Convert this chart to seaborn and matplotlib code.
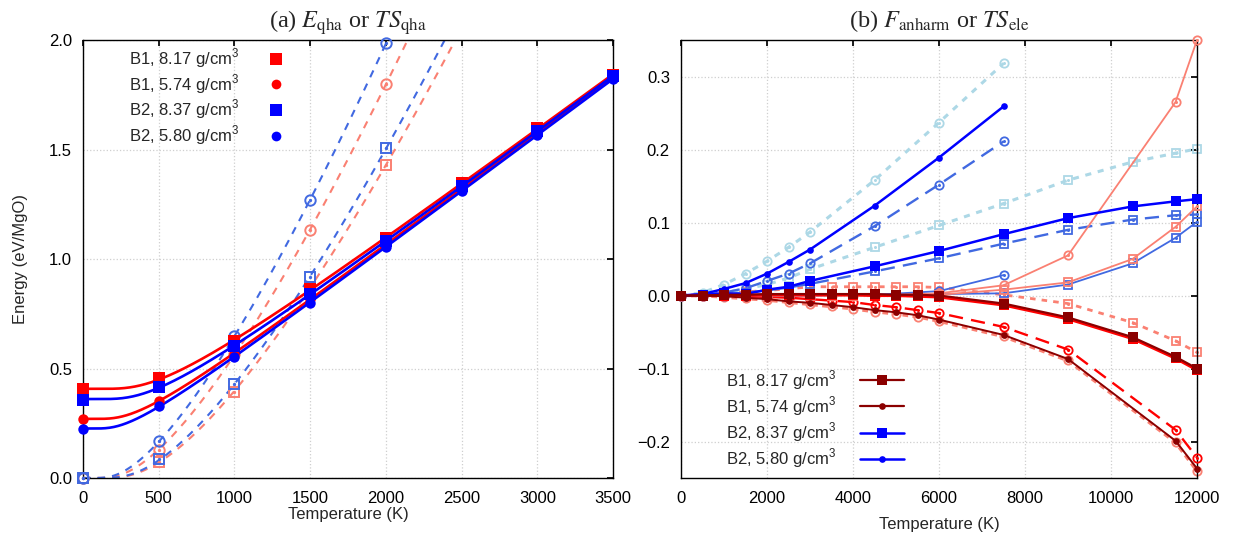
import numpy as np
import matplotlib
matplotlib.use("Agg")
import matplotlib.pyplot as plt
from matplotlib.lines import Line2D
from matplotlib.ticker import FuncFormatter, MultipleLocator
import seaborn as sns

# ---------------- panel (a): E_qha (solid) and TS_qha (dashed) ----------------
T_qha = [0, 500, 1000, 1500, 2000, 2500, 3000, 3500]
E_b1_817 = [0.405, 0.455, 0.625, 0.862, 1.097, 1.345, 1.596, 1.842]
E_b1_574 = [0.270, 0.353, 0.565, 0.818, 1.070, 1.320, 1.575, 1.830]
E_b2_837 = [0.358, 0.417, 0.603, 0.838, 1.083, 1.333, 1.584, 1.836]
E_b2_580 = [0.225, 0.329, 0.553, 0.800, 1.056, 1.312, 1.566, 1.822]

T_ts = [0, 500, 1000, 1500, 2000]
TS_b1_817 = [0.0, 0.075, 0.395, 0.870, 1.429]
TS_b1_574 = [0.0, 0.128, 0.565, 1.133, 1.798]
TS_b2_837 = [0.0, 0.087, 0.428, 0.919, 1.505]
TS_b2_580 = [0.0, 0.168, 0.648, 1.269, 1.985]

# ---------------- panel (b): F_anharm and TS_ele ----------------
T_b2_580 = [0, 500, 1000, 1500, 2000, 2500, 3000, 4500, 6000, 7500]
T_b2_837 = [0, 500, 1000, 1500, 2000, 2500, 3000, 4500, 6000, 7500, 9000, 10500, 11500, 12000]
T_b1_574 = [0, 500, 1000, 1500, 2000, 2500, 3000, 3500, 4000, 4500, 5000, 5500, 6000,
            7500, 9000, 11500, 12000]
T_b1_817 = [0, 500, 1000, 1500, 2000, 2500, 3000, 3500, 4000, 4500, 5000, 5500, 6000,
            7500, 9000, 10500, 11500, 12000]

# B2, 5.80 g/cm3
b2_580_solid = [0, 0.002, 0.009, 0.017, 0.030, 0.046, 0.063, 0.123, 0.189, 0.259]
b2_580_dot = [0, 0.004, 0.015, 0.030, 0.047, 0.066, 0.087, 0.158, 0.237, 0.318]
b2_580_dash = [0, 0.001, 0.004, 0.010, 0.020, 0.030, 0.044, 0.095, 0.152, 0.211]
b2_580_thin = [0, 0, 0, 0, 0, 0, 0, 0.001, 0.006, 0.028]

# B2, 8.37 g/cm3
b2_837_solid = [0, 0.001, 0.003, 0.002, 0.008, 0.012, 0.020, 0.040, 0.061, 0.084,
                0.106, 0.122, 0.129, 0.132]
b2_837_dot = [0, 0.001, 0.004, 0.009, 0.015, 0.024, 0.036, 0.066, 0.096, 0.126,
              0.158, 0.183, 0.195, 0.201]
b2_837_dash = [0, 0, 0.002, 0.004, 0.007, 0.011, 0.016, 0.033, 0.051, 0.071,
               0.090, 0.104, 0.110, 0.111]
b2_837_thin = [0, 0, 0, 0, 0, 0, 0, 0.001, 0.002, 0.003, 0.015, 0.044, 0.079, 0.101]

# B1, 5.74 g/cm3
b1_574_solid = [0, 0, -0.001, -0.003, -0.005, -0.008, -0.010, -0.013, -0.016, -0.020,
                -0.023, -0.027, -0.033, -0.054, -0.087, -0.199, -0.237]
b1_574_dot = [0, 0, -0.002, -0.004, -0.006, -0.009, -0.012, -0.015, -0.018, -0.022,
              -0.025, -0.029, -0.035, -0.056, -0.089, -0.201, -0.240]
b1_574_dash = [0, 0, 0, -0.001, -0.002, -0.003, -0.005, -0.007, -0.009, -0.013,
               -0.016, -0.020, -0.024, -0.043, -0.074, -0.184, -0.222]
b1_574_thin = [0, 0, 0, 0, 0, 0, 0, 0, 0, 0, 0.001, 0.002, 0.003, 0.014, 0.055, 0.265, 0.350]

# B1, 8.17 g/cm3
b1_817_solid = [0, 0, 0.001, 0.001, 0.002, 0.002, 0.002, 0.002, 0.002, 0.002, 0.001,
                0.001, 0.0, -0.011, -0.030, -0.057, -0.084, -0.100]
b1_817_red = [0, 0, 0, 0, 0.001, 0.001, 0.001, 0.001, 0.001, 0.0, 0.0, -0.001, -0.002,
              -0.013, -0.032, -0.059, -0.086, -0.102]
b1_817_dot = [0, 0.001, 0.003, 0.005, 0.007, 0.009, 0.012, 0.012, 0.012, 0.012, 0.012,
              0.012, 0.011, 0.001, -0.011, -0.037, -0.062, -0.078]
b1_817_thin = [0, 0, 0, 0, 0, 0, 0, 0, 0, 0, 0, 0, 0.001, 0.008, 0.018, 0.050, 0.094, 0.122]

legend_labels = ["B1, 8.17 g/cm$^\\mathregular{3}$", "B1, 5.74 g/cm$^\\mathregular{3}$",
                 "B2, 8.37 g/cm$^\\mathregular{3}$", "B2, 5.80 g/cm$^\\mathregular{3}$"]

RED, BLUE = "#ff0000", "#0000ff"
SALMON, ROYAL, LIGHTBLUE, DARKRED = "#fa8072", "#4169e1", "#add8e6", "#8b0000"

sns.set_theme(style="white")
plt.rcParams.update({
    "font.family": ["Liberation Sans", "DejaVu Sans"],
    "mathtext.fontset": "custom",
    "mathtext.rm": "Liberation Sans",
    "font.size": 12,
    "axes.edgecolor": "black",
    "axes.linewidth": 1.0,
    "xtick.direction": "in",
    "ytick.direction": "in",
    "xtick.major.size": 4,
    "ytick.major.size": 4,
    "xtick.color": "black",
    "ytick.color": "black",
    "xtick.labelsize": 12,
    "ytick.labelsize": 12,
})


# Einstein-type smooth fits used for the panel (a) curves
def e_basis(T, th):
    T = np.asarray(T, float)
    out = np.zeros_like(T)
    m = T > 0
    with np.errstate(over="ignore", divide="ignore"):
        out[m] = th / np.expm1(th / T[m])
    return out


def ts_basis(T, th):
    T = np.asarray(T, float)
    out = np.zeros_like(T)
    m = T > 0
    x = th / T[m]
    with np.errstate(over="ignore", divide="ignore", invalid="ignore"):
        s = x / np.expm1(x) - np.log(-np.expm1(-x))
    out[m] = T[m] * np.nan_to_num(s)
    return out


THETAS = np.arange(100, 5000, 5.0)


def fit_energy(T, y):
    y = np.asarray(y, float)
    best = None
    for th in THETAS:
        A = np.column_stack([np.ones(len(T)), e_basis(T, th)])
        coef, *_ = np.linalg.lstsq(A, y, rcond=None)
        r = np.sum((A @ coef - y) ** 2)
        if best is None or r < best[0]:
            best = (r, th, coef)
    _, th, (a, b) = best
    return lambda t: a + b * e_basis(t, th)


def fit_entropy(T, y):
    y = np.asarray(y, float)
    best = None
    for th in THETAS:
        h = ts_basis(T, th)
        b = h @ y / (h @ h)
        r = np.sum((b * h - y) ** 2)
        if best is None or r < best[0]:
            best = (r, th, b)
    _, th, b = best
    return lambda t: b * ts_basis(t, th)


fig = plt.figure(figsize=(12.43, 5.49), dpi=100)
ax1 = fig.add_axes([0.0668, 0.1293, 0.4264, 0.7978])
ax2 = fig.add_axes([0.5479, 0.1293, 0.4151, 0.7978])

# ---------------- panel (a) ----------------
T_fine = np.linspace(0, 3500, 500)
dashed_sets = [(TS_b1_817, SALMON, "s"), (TS_b1_574, SALMON, "o"),
               (TS_b2_837, ROYAL, "s"), (TS_b2_580, ROYAL, "o")]
for vals, col, mk in dashed_sets:
    f = fit_entropy(T_ts, vals)
    sns.lineplot(x=T_fine, y=f(T_fine), ax=ax1, color=col, lw=1.5,
                 dashes=(3.6, 3.4), sort=False, errorbar=None, zorder=2)
    sns.lineplot(x=T_ts, y=vals, ax=ax1, color=col, marker=mk, ms=7.5,
                 markerfacecolor="none", markeredgecolor=col, markeredgewidth=1.4,
                 linestyle="none", sort=False, errorbar=None, zorder=3, clip_on=False)
    sns.lineplot(x=T_ts, y=vals, ax=ax1, color=col, marker="o", ms=1.6,
                 markeredgecolor=col, linestyle="none", sort=False,
                 errorbar=None, zorder=3, clip_on=False)

solid_sets = [(E_b1_574, RED, "o", 7.5), (E_b2_580, BLUE, "o", 7.5),
              (E_b1_817, RED, "s", 8), (E_b2_837, BLUE, "s", 8)]
for vals, col, mk, ms in solid_sets:
    f = fit_energy(T_qha, vals)
    sns.lineplot(x=T_fine, y=f(T_fine), ax=ax1, color=col, lw=1.9,
                 sort=False, errorbar=None, zorder=4)
    sns.lineplot(x=T_qha, y=vals, ax=ax1, color=col, marker=mk, ms=ms,
                 markerfacecolor=col, markeredgecolor=col, markeredgewidth=0,
                 linestyle="none", sort=False, errorbar=None, zorder=5, clip_on=False)

ax1.set_xlim(0, 3500)
ax1.set_ylim(0, 2.0)
ax1.xaxis.set_major_locator(MultipleLocator(500))
ax1.yaxis.set_major_locator(MultipleLocator(0.5))
ax1.set_xlabel("Temperature (K)", fontsize=12, labelpad=1)
ax1.set_ylabel("Energy (eV/MgO)", fontsize=12, labelpad=15)

h_left = [Line2D([], [], ls="none", marker="s", ms=8, color=RED, mew=0),
          Line2D([], [], ls="none", marker="o", ms=7, color=RED, mew=0),
          Line2D([], [], ls="none", marker="s", ms=8, color=BLUE, mew=0),
          Line2D([], [], ls="none", marker="o", ms=7, color=BLUE, mew=0)]
ax1.legend(h_left, legend_labels, loc="upper left", bbox_to_anchor=(0.087, 0.985),
           frameon=False, markerfirst=False, handlelength=1.2, handletextpad=1.6,
           labelspacing=0.12, borderpad=0, borderaxespad=0, fontsize=12)

# ---------------- panel (b) ----------------
def draw(ax, T, vals, col, mk, ms, lw, dashes=None, filled=False, z=3, dot=True):
    kw = dict(ax=ax, color=col, lw=lw, marker=mk, ms=ms, sort=False, errorbar=None,
              zorder=z, clip_on=False)
    if dashes is not None:
        kw["dashes"] = dashes
    if filled:
        kw.update(markerfacecolor=col, markeredgecolor=col, markeredgewidth=0)
    else:
        kw.update(markerfacecolor="none", markeredgecolor=col, markeredgewidth=1.3)
    sns.lineplot(x=T, y=vals, **kw)
    if dot and not filled:
        sns.lineplot(x=T, y=vals, ax=ax, color=col, marker="o", ms=1.4,
                     markeredgecolor=col, linestyle="none", sort=False,
                     errorbar=None, zorder=z, clip_on=False)


# electronic / alternative curves in light tones
draw(ax2, T_b2_580, b2_580_dot, LIGHTBLUE, "o", 6, 2.2, dashes=(2, 2.2), z=2)
draw(ax2, T_b2_837, b2_837_dot, LIGHTBLUE, "s", 6, 2.2, dashes=(2, 2.2), z=2)
draw(ax2, T_b1_817, b1_817_dot, SALMON, "s", 6, 2.0, dashes=(2, 2.2), z=2)
draw(ax2, T_b1_574, b1_574_dot, SALMON, "o", 6, 2.6, dashes=(1.6, 1.2), z=2)
draw(ax2, T_b2_580, b2_580_dash, ROYAL, "o", 6, 1.7, dashes=(6, 3.5), z=3)
draw(ax2, T_b2_837, b2_837_dash, ROYAL, "s", 6, 1.7, dashes=(6, 3.5), z=3)
draw(ax2, T_b1_574, b1_574_dash, RED, "o", 6, 1.7, dashes=(6, 3.5), z=3)
draw(ax2, T_b2_580, b2_580_thin, ROYAL, "o", 6, 1.3, z=3)
draw(ax2, T_b2_837, b2_837_thin, ROYAL, "s", 6, 1.3, z=3)
draw(ax2, T_b1_574, b1_574_thin, SALMON, "o", 6, 1.3, z=3)
draw(ax2, T_b1_817, b1_817_thin, SALMON, "s", 6, 1.3, z=3)

# anharmonic free energies in strong tones
draw(ax2, T_b1_817, b1_817_red, RED, "s", 7.5, 2.2, filled=True, z=4)
draw(ax2, T_b2_837, b2_837_solid, BLUE, "s", 6.5, 1.8, filled=True, z=5)
draw(ax2, T_b2_580, b2_580_solid, BLUE, "o", 4.8, 1.8, filled=True, z=5)
draw(ax2, T_b1_817, b1_817_solid, DARKRED, "s", 6.5, 1.6, filled=True, z=6)
draw(ax2, T_b1_574, b1_574_solid, DARKRED, "o", 4.8, 1.4, filled=True, z=6)

ax2.set_xlim(0, 12000)
ax2.set_ylim(-0.25, 0.35)
ax2.xaxis.set_major_locator(MultipleLocator(2000))
ax2.yaxis.set_major_locator(MultipleLocator(0.1))
ax2.set_xlabel("Temperature (K)", fontsize=12, labelpad=8)
ax2.set_ylabel("")

h_right = [Line2D([], [], color=DARKRED, lw=1.6, marker="s", ms=6.5, mew=0),
           Line2D([], [], color=DARKRED, lw=1.6, marker="o", ms=4.8, mew=0),
           Line2D([], [], color=BLUE, lw=1.8, marker="s", ms=6.5, mew=0),
           Line2D([], [], color=BLUE, lw=1.8, marker="o", ms=4.8, mew=0)]
ax2.legend(h_right, legend_labels, loc="lower left", bbox_to_anchor=(0.088, 0.018),
           frameon=False, markerfirst=False, handlelength=2.6, handletextpad=1.4,
           labelspacing=0.15, borderpad=0, borderaxespad=0, fontsize=12)

one_decimal = FuncFormatter(lambda v, _: f"{v:.1f}".replace("-", "\u2212"))
ax1.yaxis.set_major_formatter(one_decimal)
ax2.yaxis.set_major_formatter(one_decimal)

for ax in (ax1, ax2):
    ax.grid(True, color="#cfcfcf", ls=":", lw=0.9)
    ax.set_axisbelow(True)
    ax.tick_params(which="both", top=True, right=True, direction="in", length=4)
    ax.tick_params(axis="y", pad=8)
    ax.tick_params(axis="x", pad=9)
    for s in ax.spines.values():
        s.set_visible(True)
        s.set_color("black")
        s.set_linewidth(1.0)

title_kw = dict(fontsize=17.5, pad=9, family="Liberation Serif", math_fontfamily="stix")
ax1.set_title("(a) $E_\\mathrm{qha}$ or $TS_\\mathrm{qha}$", **title_kw)
ax2.set_title("(b) $F_\\mathrm{anharm}$ or $TS_\\mathrm{ele}$", **title_kw)

fig.savefig("out.png", dpi=100)
